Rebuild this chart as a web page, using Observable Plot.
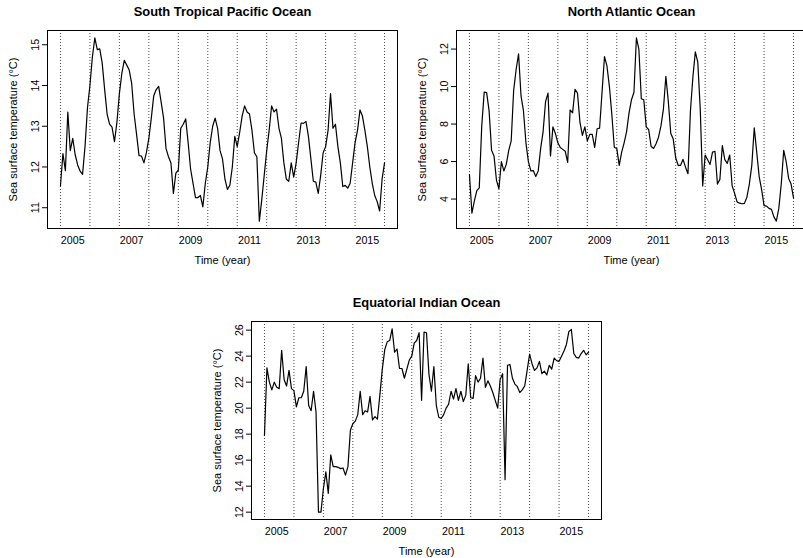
<!DOCTYPE html>
<html>
<head>
<meta charset="utf-8">
<script src="https://cdn.jsdelivr.net/npm/d3@7"></script>
<script src="https://cdn.jsdelivr.net/npm/@observablehq/plot@0.6"></script>
<style>
  html, body { margin: 0; padding: 0; background: #fff; overflow: hidden; }
  #chart { position: relative; width: 803px; height: 558px; overflow: hidden; background: #fff; }
  #chart svg { position: absolute; overflow: visible; }
</style>
</head>
<body>
<div id="chart"></div>
<script>
// Monthly sea surface temperature series, first observation August 2004
const startYear = 2004;
const startMonth = 8;

const pacificSST = [
  11.54, 12.33, 11.91, 13.35, 12.4, 12.7, 12.3, 12.05, 11.9, 11.82,
  12.5, 13.45, 14.0, 14.7, 15.17, 14.88, 14.9, 14.55, 13.9, 13.3,
  13.05, 12.98, 12.62, 13.1, 13.8, 14.3, 14.62, 14.5, 14.38, 14.05,
  13.3, 12.8, 12.28, 12.27, 12.1, 12.35, 12.7, 13.2, 13.75, 13.9,
  13.98, 13.6, 13.2, 12.45, 12.25, 12.1, 11.35, 11.85, 11.92, 12.95,
  13.05, 13.18, 12.6, 11.95, 11.6, 11.25, 11.25, 11.3, 11.02, 11.6,
  12.0, 12.6, 13.0, 13.2, 12.95, 12.4, 12.2, 11.7, 11.45, 11.55,
  12.0, 12.75, 12.5, 12.85, 13.25, 13.5, 13.35, 13.3, 12.9, 12.35,
  12.25, 10.67, 11.2, 11.8, 12.4, 12.9, 13.5, 13.35, 13.42, 12.95,
  12.7, 12.1, 11.7, 11.65, 12.1, 11.75, 12.1, 12.6, 13.08, 13.07,
  13.12, 12.75, 12.2, 11.65, 11.63, 11.35, 11.8, 12.35, 12.5, 12.9,
  13.8, 12.95, 13.05, 12.5, 12.1, 11.52, 11.55, 11.48, 11.6, 12.1,
  12.6, 12.9, 13.4, 13.25, 12.9, 12.5, 12.0, 11.6, 11.3, 11.15,
  10.92, 11.7, 12.1
];

const atlanticSST = [
  5.3, 3.25, 3.9, 4.45, 4.6, 7.9, 9.7, 9.68, 8.7, 6.6,
  6.3, 5.0, 4.55, 6.0, 5.5, 5.85, 6.6, 7.1, 9.8, 10.9,
  11.75, 9.5, 8.7, 7.0, 6.0, 5.5, 5.52, 5.2, 5.5, 6.7,
  7.6, 9.2, 9.65, 6.3, 7.85, 7.5, 7.0, 6.75, 6.65, 6.55,
  5.95, 8.75, 8.6, 9.85, 9.65, 8.1, 7.4, 7.85, 7.1, 7.45,
  7.45, 6.75, 7.75, 7.78, 9.7, 11.6, 11.1, 10.0, 8.5, 6.75,
  6.7, 5.8, 6.5, 7.0, 7.6, 8.6, 9.3, 9.7, 12.6, 12.0,
  9.35, 9.3, 7.85, 7.7, 6.8, 6.7, 6.95, 7.3, 7.9, 8.8,
  10.55, 9.2, 7.5, 7.2, 6.2, 5.8, 5.8, 6.12, 5.7, 5.35,
  8.7, 10.5, 11.85, 11.3, 8.8, 4.7, 6.35, 6.1, 5.85, 6.5,
  6.55, 4.8, 5.05, 6.85, 6.1, 5.9, 6.35, 4.7, 4.3, 3.85,
  3.78, 3.75, 3.77, 4.1, 4.8, 5.8, 7.8, 6.5, 5.2, 4.5,
  3.65, 3.62, 3.5, 3.45, 3.05, 2.82, 3.5, 4.8, 6.6, 6.0,
  5.1, 4.8, 4.05
];

const indianSST = [
  17.9, 23.1, 22.0, 21.4, 22.0, 21.6, 21.5, 24.45, 22.2, 21.7,
  22.9, 21.5, 21.35, 20.1, 20.8, 20.8, 21.3, 23.2, 20.2, 19.8,
  21.3, 19.7, 12.0, 12.0, 13.8, 15.1, 13.45, 16.4, 15.5, 15.5,
  15.45, 15.35, 15.4, 14.85, 15.5, 18.3, 18.8, 19.0, 19.5, 21.3,
  19.5, 19.8, 19.7, 20.9, 19.1, 19.35, 19.15, 21.0, 23.0, 24.5,
  25.1, 25.2, 26.1, 24.3, 24.55, 23.05, 23.05, 22.3, 23.0, 23.7,
  24.0, 25.0, 25.2, 25.8, 20.6, 25.85, 25.8, 22.6, 21.3, 23.2,
  20.2, 19.3, 19.2, 19.5, 20.0, 20.3, 21.3, 20.7, 21.5, 20.6,
  21.3, 20.5, 21.0, 23.4, 20.8, 20.75, 22.5, 22.0, 22.3, 23.85,
  21.6, 22.1, 21.7, 21.2, 20.6, 20.0, 22.2, 22.65, 14.5, 23.3,
  23.35, 22.3, 21.85, 21.65, 21.2, 21.4, 21.7, 22.9, 24.15, 23.4,
  22.9, 23.1, 23.6, 22.65, 22.85, 22.55, 23.3, 23.0, 23.85, 23.65,
  23.6, 24.0, 24.4, 24.9, 25.9, 26.05, 24.2, 23.9, 23.85, 24.2,
  24.45, 24.1, 24.3
];

const yearTicks = [2005, 2007, 2009, 2011, 2013, 2015];
const pacificTicks = [11, 12, 13, 14, 15];
const atlanticTicks = [4, 6, 8, 10, 12];
const indianTicks = [12, 14, 16, 18, 20, 22, 24, 26];

// Dotted reference lines at the start of each August
const augustLines = [2004, 2005, 2006, 2007, 2008, 2009, 2010, 2011, 2012, 2013, 2014, 2015]
  .map(y => y + (startMonth - 1) / 12);

const FONT = "'Liberation Sans', Arial, Helvetica, sans-serif";
const FRAME_W = 350, FRAME_H = 198;
const M = {left: 47, right: 6, top: 30, bottom: 45};

// R-style axis range: data extent widened by 4% on each side
function widen([a, b]) {
  const d = (b - a) * 0.04;
  return [a - d, b + d];
}

function panel({title, values, yTicks, frameLeft, frameTop}) {
  const rows = values.map((v, i) => ({t: startYear + (startMonth - 1 + i) / 12, v}));
  const svg = Plot.plot({
    width: FRAME_W + M.left + M.right,
    height: FRAME_H + M.top + M.bottom,
    marginLeft: M.left, marginRight: M.right, marginTop: M.top, marginBottom: M.bottom,
    style: {fontFamily: FONT, fontSize: "10.7px", color: "#000", background: "transparent"},
    x: {domain: widen(d3.extent(rows, d => d.t))},
    y: {domain: widen(d3.extent(rows, d => d.v))},
    marks: [
      Plot.ruleX(augustLines, {stroke: "#333", strokeWidth: 0.9, strokeDasharray: "1,2"}),
      Plot.line(rows, {x: "t", y: "v", stroke: "#000", strokeWidth: 1.2}),
      Plot.frame({stroke: "#000", strokeWidth: 1}),
      Plot.axisX(yearTicks, {tickSize: 0, tickPadding: 8, tickFormat: d => String(d), label: null}),
      Plot.axisY(yTicks, {tickSize: 5, tickPadding: 4, tickRotate: -90, tickFormat: d => String(d), label: null}),
      Plot.text([title], {text: d => d, frameAnchor: "top", lineAnchor: "middle", dy: -19, fontWeight: "bold", fontSize: 12.9}),
      Plot.text(["Time (year)"], {text: d => d, frameAnchor: "bottom", lineAnchor: "middle", dy: 32, fontSize: 11}),
      Plot.text(["Sea surface temperature (°C)"], {text: d => d, frameAnchor: "left", textAnchor: "middle", lineAnchor: "middle", dx: -34, rotate: -90, fontSize: 11})
    ]
  });
  svg.style.left = (frameLeft - M.left) + "px";
  svg.style.top = (frameTop - M.top) + "px";
  document.getElementById("chart").append(svg);
}

panel({title: "South Tropical Pacific Ocean", values: pacificSST, yTicks: pacificTicks, frameLeft: 47, frameTop: 30});
panel({title: "North Atlantic Ocean", values: atlanticSST, yTicks: atlanticTicks, frameLeft: 456, frameTop: 30});
panel({title: "Equatorial Indian Ocean", values: indianSST, yTicks: indianTicks, frameLeft: 251, frameTop: 321});
</script>
</body>
</html>
